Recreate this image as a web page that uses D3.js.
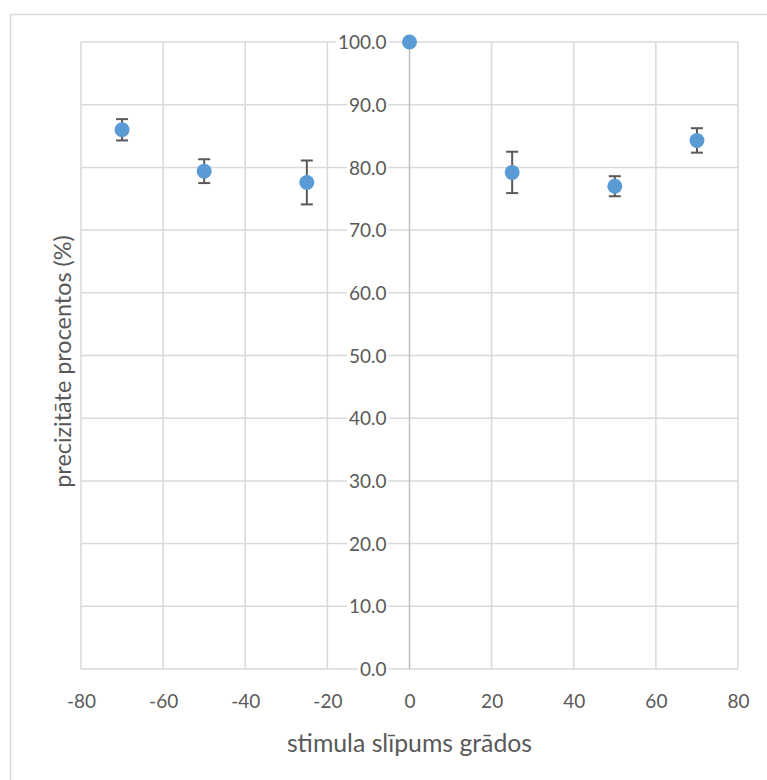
<!DOCTYPE html>
<html>
<head>
<meta charset="utf-8">
<script src="https://cdn.jsdelivr.net/npm/d3@7"></script>
<style>
  html, body { margin: 0; padding: 0; background: #fff; }
  svg { display: block; }
  text { font-family: Lato, "Open Sans", sans-serif; fill: #595959; }
</style>
</head>
<body>
<svg id="chart" width="767" height="780"></svg>
<script>
// Slant of the stimulus (degrees)
const slopes = [-70, -50, -25, 0, 25, 50, 70];
// Mean accuracy (%)
const accuracy = [86.0, 79.4, 77.6, 100.0, 79.2, 77.0, 84.3];
// Error bar half-widths (%)
const errors = [1.7, 1.9, 3.5, 0, 3.3, 1.6, 1.95];

const xTicks = [-80, -60, -40, -20, 0, 20, 40, 60, 80];
const yTicks = [0, 10, 20, 30, 40, 50, 60, 70, 80, 90, 100];

const xTitle = "stimula slīpums grādos";
const yTitle = "precizitāte procentos (%)";

const svg = d3.select("#chart");
const plotLeft = 81, plotRight = 738, plotTop = 42, plotBottom = 669;

// chart frame
svg.append("rect")
  .attr("x", 10.5).attr("y", 14.5)
  .attr("width", 800).attr("height", 800)
  .attr("fill", "#fff").attr("stroke", "#d9d9d9").attr("stroke-width", 1.5);

const x = d3.scaleLinear().domain([-80, 80]).range([plotLeft, plotRight]);
const y = d3.scaleLinear().domain([0, 100]).range([plotBottom, plotTop]);

// gridlines
const grid = svg.append("g");
grid.selectAll("line.v").data(xTicks.filter(t => t !== 0)).join("line")
  .attr("class", "v")
  .attr("x1", d => x(d)).attr("x2", d => x(d))
  .attr("y1", y(0)).attr("y2", y(100))
  .attr("stroke", "#d9d9d9").attr("stroke-width", 1.5);
grid.selectAll("line.h").data(yTicks).join("line")
  .attr("class", "h")
  .attr("x1", x(-80)).attr("x2", x(80))
  .attr("y1", d => y(d)).attr("y2", d => y(d))
  .attr("stroke", "#d9d9d9").attr("stroke-width", 1.5);

// vertical axis at x = 0
svg.append("line")
  .attr("x1", x(0)).attr("x2", x(0))
  .attr("y1", y(0)).attr("y2", y(100))
  .attr("stroke", "#bfbfbf").attr("stroke-width", 1.5);

// x axis tick labels (plain hyphen for negatives)
const xAxis = d3.axisBottom(x).tickValues(xTicks).tickFormat(d => String(d)).tickSize(0).tickPadding(0);
const gx = svg.append("g").attr("transform", `translate(0,${plotBottom})`).call(xAxis);
gx.select(".domain").remove();
gx.selectAll("text")
  .attr("y", 32).attr("dy", "0.35em")
  .style("font-size", "19px").style("font-family", "Lato, sans-serif").attr("fill", "#595959");

// y axis tick labels, placed beside the zero line
const yAxis = d3.axisLeft(y).tickValues(yTicks).tickFormat(d3.format(".1f")).tickSize(0).tickPadding(0);
const gy = svg.append("g").attr("transform", `translate(${x(0)},0)`).call(yAxis);
gy.select(".domain").remove();
gy.selectAll("text")
  .attr("x", -23).attr("dy", "0.35em")
  .style("font-size", "19px").style("font-family", "Lato, sans-serif").attr("fill", "#595959");
// white backing behind the labels so gridlines do not pass through them
gy.selectAll(".tick").each(function() {
  const t = d3.select(this).select("text");
  const bb = t.node().getBBox();
  d3.select(this).insert("rect", "text")
    .attr("x", bb.x - 2).attr("y", bb.y + 3)
    .attr("width", bb.width + 4).attr("height", bb.height - 6)
    .attr("fill", "#fff");
});

// axis titles
svg.append("text")
  .attr("x", x(0)).attr("y", 743).attr("dy", "0.35em")
  .attr("text-anchor", "middle")
  .style("font-size", "24.8px")
  .text(xTitle);
svg.append("text")
  .attr("transform", `translate(63,${(plotTop + plotBottom) / 2 + 6}) rotate(-90)`)
  .attr("dy", "0.35em")
  .attr("text-anchor", "middle")
  .style("font-size", "23.4px")
  .text(yTitle);

const data = slopes.map((s, i) => ({ s, v: accuracy[i], e: errors[i] }));

// error bars
const eb = svg.append("g").attr("stroke", "#595959").attr("stroke-width", 2);
data.filter(d => d.e > 0).forEach(d => {
  const cx = x(d.s);
  eb.append("line").attr("x1", cx).attr("x2", cx).attr("y1", y(d.v + d.e)).attr("y2", y(d.v - d.e));
  eb.append("line").attr("x1", cx - 6).attr("x2", cx + 6).attr("y1", y(d.v + d.e)).attr("y2", y(d.v + d.e));
  eb.append("line").attr("x1", cx - 6).attr("x2", cx + 6).attr("y1", y(d.v - d.e)).attr("y2", y(d.v - d.e));
});

// points
svg.append("g").selectAll("circle").data(data).join("circle")
  .attr("cx", d => x(d.s)).attr("cy", d => y(d.v))
  .attr("r", 7.5)
  .attr("fill", "#5b9bd5");
</script>
</body>
</html>
